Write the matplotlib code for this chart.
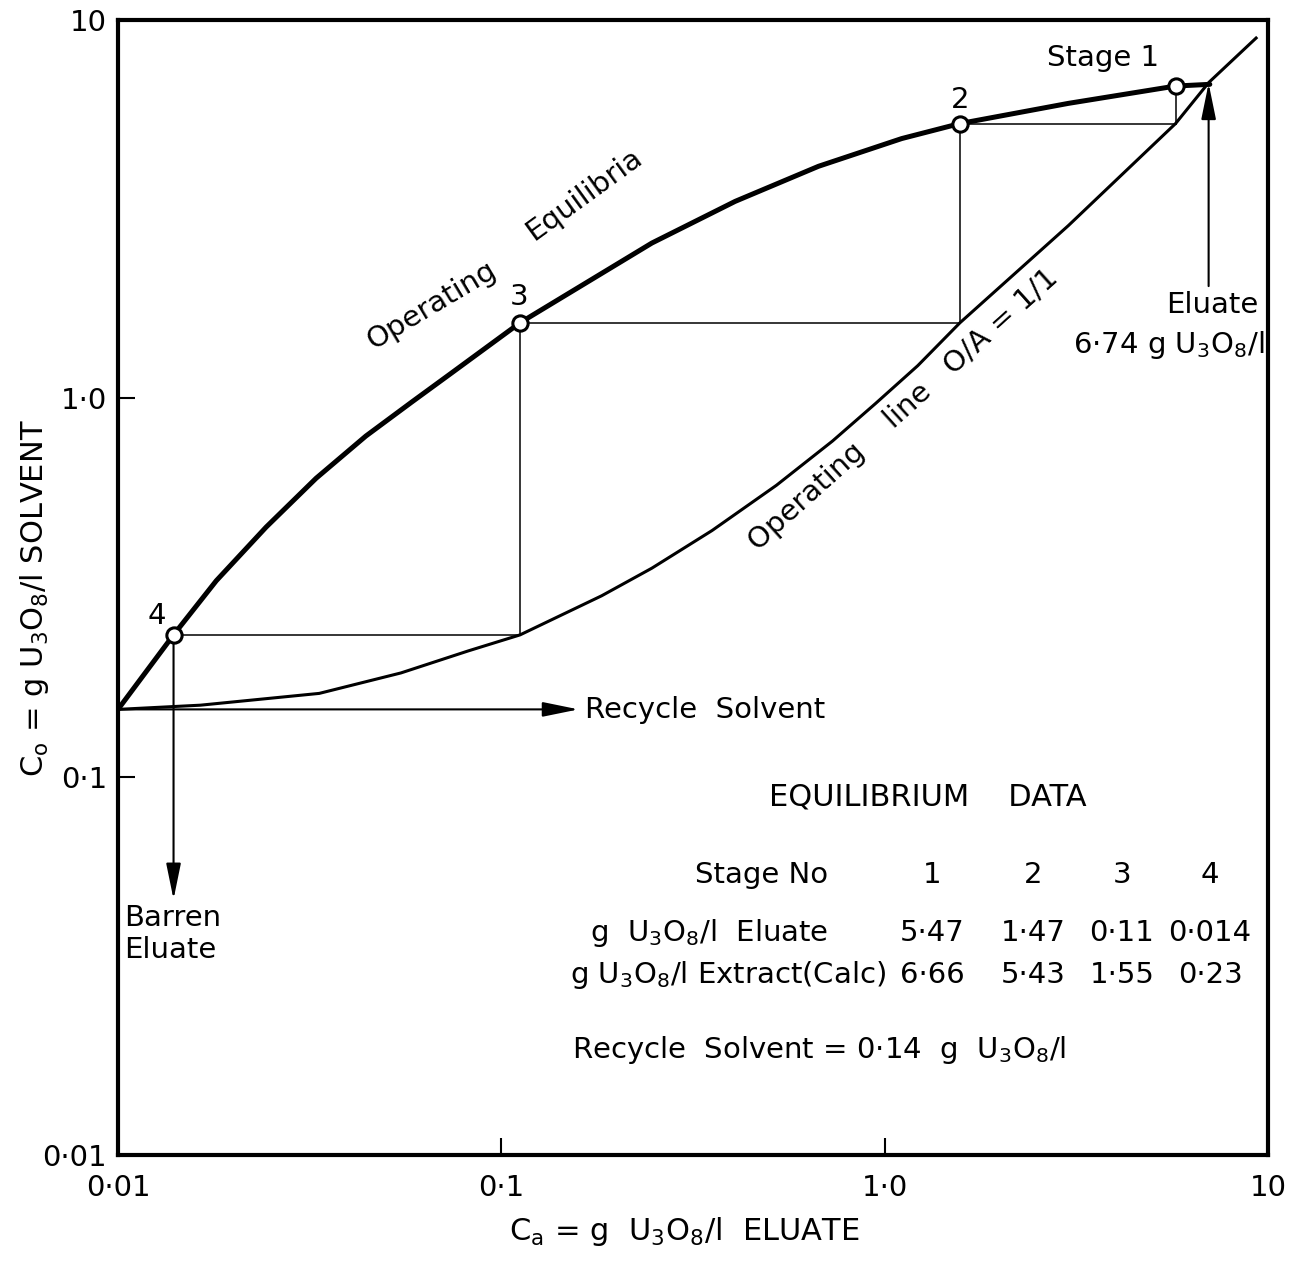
import matplotlib
matplotlib.use("Agg")
import matplotlib.pyplot as plt

# ---- data ----
# Operating equilibrium curve (Ca eluate, Co solvent)
eq_ca = [0.01, 0.01396, 0.01805, 0.02434, 0.03287, 0.04432, 0.05848, 0.0731,
         0.1119, 0.247, 0.4074, 0.672, 1.108, 1.572, 3.013, 5.74, 7.05]
eq_co = [0.1506, 0.237, 0.3296, 0.4566, 0.6148, 0.7949, 0.9788, 1.1545,
         1.584, 2.573, 3.316, 4.105, 4.86, 5.325, 6.02, 6.69, 6.76]

# Operating line O/A = 1/1
op_ca = [0.01, 0.0164, 0.0335, 0.0547, 0.082, 0.1119, 0.1827, 0.247, 0.3546,
         0.522, 0.731, 0.947, 1.22, 1.572, 3.013, 5.74, 7.01, 9.31]
op_co = [0.1506, 0.1545, 0.166, 0.188, 0.215, 0.237, 0.3007, 0.3557, 0.4473,
         0.5891, 0.7711, 0.9693, 1.22, 1.584, 2.86, 5.325, 6.84, 8.96]

# Stage points as drawn (stage 1..4)
stage_ca = [5.74, 1.572, 0.1119, 0.01396]
stage_co = [6.69, 5.325, 1.584, 0.237]
stage_names = ["Stage 1", "2", "3", "4"]

# Table values
table_stage = ["1", "2", "3", "4"]
table_eluate = ["5·47", "1·47", "0·11", "0·014"]
table_extract = ["6·66", "5·43", "1·55", "0·23"]

recycle_co = 0.1506
recycle_tip_ca = 0.159
barren_tip_co = 0.0474
eluate_ca = 7.0
eluate_arrow_co = [1.98, 6.8]

tick_vals = [0.01, 0.1, 1.0, 10]
tick_labels = ["0·01", "0·1", "1·0", "10"]

W, H = 1299, 1264
fig = plt.figure(figsize=(W / 100, H / 100), dpi=100)
plt.rcParams['font.family'] = ['DejaVu Sans']
ax = fig.add_axes([118 / W, 1 - 1155 / H, 1150 / W, 1135 / H])
ax.set_xscale('log')
ax.set_yscale('log')
ax.set_xlim(0.01, 10)
ax.set_ylim(0.01, 10)
for s in ax.spines.values():
    s.set_linewidth(3)
ax.set_xticks(tick_vals)
ax.set_xticklabels(tick_labels)
ax.set_yticks(tick_vals)
ax.set_yticklabels(tick_labels)
ax.xaxis.set_minor_locator(matplotlib.ticker.NullLocator())
ax.yaxis.set_minor_locator(matplotlib.ticker.NullLocator())
ax.tick_params(direction='in', length=12, width=1.5, labelsize=21)
ax.tick_params(axis='x', pad=14)
ax.tick_params(axis='y', pad=8)


def fp(px, py):
    return (px / W, 1 - py / H)


# curves
ax.plot(eq_ca, eq_co, color='black', lw=3.6, solid_capstyle='round',
        solid_joinstyle='round', zorder=3)
ax.plot(op_ca, op_co, color='black', lw=2.2, solid_joinstyle='round', zorder=3)

# stage construction lines
for i in range(1, len(stage_ca)):
    ax.plot([stage_ca[i], stage_ca[i - 1]], [stage_co[i], stage_co[i]],
            color='black', lw=1.1, zorder=2)
    ax.plot([stage_ca[i - 1], stage_ca[i - 1]], [stage_co[i], stage_co[i - 1]],
            color='black', lw=1.1, zorder=2)

# markers
ax.plot(stage_ca, stage_co, 'o', ms=11, mfc='white', mec='black', mew=2.2, zorder=5)

# arrows
arrow_kw = dict(arrowstyle='-|>,head_length=2.2,head_width=0.45', color='black',
                lw=1.5, mutation_scale=10, shrinkA=0, shrinkB=0)
ax.annotate("", xy=(recycle_tip_ca, recycle_co), xytext=(0.01, recycle_co),
            arrowprops=arrow_kw, zorder=4)
ax.annotate("", xy=(stage_ca[3], barren_tip_co), xytext=(stage_ca[3], stage_co[3]),
            arrowprops=arrow_kw, zorder=4)
ax.annotate("", xy=(eluate_ca, eluate_arrow_co[1]), xytext=(eluate_ca, eluate_arrow_co[0]),
            arrowprops=arrow_kw, zorder=4)

fs = 21
T = fig.transFigure
# stage labels
ax.text(*fp(1103, 58), stage_names[0], transform=T, ha='center', va='center', fontsize=fs)
ax.text(*fp(960, 100), stage_names[1], transform=T, ha='center', va='center', fontsize=fs)
ax.text(*fp(519, 297), stage_names[2], transform=T, ha='center', va='center', fontsize=fs)
ax.text(*fp(157, 616), stage_names[3], transform=T, ha='center', va='center', fontsize=fs)

# curve labels
ax.text(*fp(432, 305), "Operating", transform=T, ha='center', va='center',
        fontsize=fs, rotation=31, rotation_mode='anchor')
ax.text(*fp(584, 195), "Equilibria", transform=T, ha='center', va='center',
        fontsize=fs, rotation=36, rotation_mode='anchor')
ax.text(*fp(903, 410), "Operating    line   O/A = 1/1", transform=T,
        ha='center', va='center', fontsize=fs, rotation=42, rotation_mode='anchor')

# annotations
ax.text(*fp(1212, 305), "Eluate", transform=T, ha='center', va='center', fontsize=fs)
ax.text(*fp(1264, 345), "6·74 g U$_3$O$_8$/l", transform=T, ha='right',
        va='center', fontsize=fs)
ax.text(*fp(585, 710), "Recycle  Solvent", transform=T, ha='left', va='center',
        fontsize=fs)
ax.text(*fp(124, 918), "Barren", transform=T, ha='left', va='center', fontsize=fs)
ax.text(*fp(124, 950), "Eluate", transform=T, ha='left', va='center', fontsize=fs)

# table
ax.text(*fp(928, 797), "EQUILIBRIUM    DATA", transform=T, ha='center',
        va='center', fontsize=22)
ax.text(*fp(828, 875), "Stage No", transform=T, ha='right', va='center', fontsize=fs)
ax.text(*fp(828, 933), "g  U$_3$O$_8$/l  Eluate", transform=T, ha='right',
        va='center', fontsize=fs)
ax.text(*fp(886, 975), "g U$_3$O$_8$/l Extract(Calc)", transform=T, ha='right',
        va='center', fontsize=fs)
col_x = [932, 1033, 1122, 1210]
for cx, s1, s2, s3 in zip(col_x, table_stage, table_eluate, table_extract):
    ax.text(*fp(cx, 875), s1, transform=T, ha='center', va='center', fontsize=fs)
    ax.text(*fp(cx, 933), s2, transform=T, ha='center', va='center', fontsize=fs)
    ax.text(*fp(cx, 975), s3, transform=T, ha='center', va='center', fontsize=fs)
ax.text(*fp(572, 1050), "Recycle  Solvent = 0·14  g  U$_3$O$_8$/l", transform=T,
        ha='left', va='center', fontsize=fs)

# axis labels
fig.text(*fp(35, 598), r"C$_\mathrm{o}$ = g U$_3$O$_8$/l SOLVENT", rotation=90,
         ha='center', va='center', fontsize=22)
fig.text(*fp(684, 1232), r"C$_\mathrm{a}$ = g  U$_3$O$_8$/l  ELUATE", ha='center',
         va='center', fontsize=22)

fig.savefig("out.png", dpi=100)
